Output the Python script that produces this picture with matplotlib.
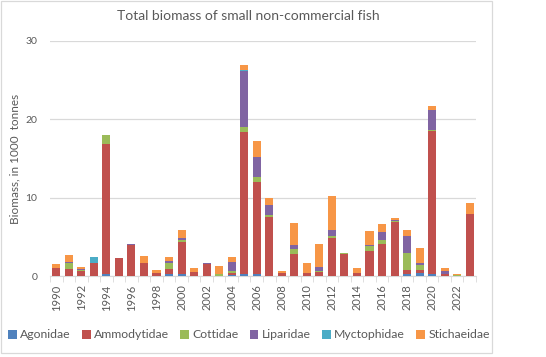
import numpy as np
import matplotlib
matplotlib.use("Agg")
import matplotlib.pyplot as plt
from matplotlib.patches import Rectangle

years = list(range(1990, 2024))

# biomass, 1000 tonnes
agonidae = [0, 0, 0, 0, 0.25, 0, 0, 0, 0, 0.2,
            0.2, 0, 0, 0, 0.1, 0.2, 0.2, 0, 0, 0,
            0, 0, 0, 0, 0, 0, 0, 0, 0.3, 0.35,
            0.3, 0, 0, 0]
ammodytidae = [1.05, 0.9, 0.6, 1.65, 16.65, 2.3, 3.95, 1.7, 0.4, 0.7,
               4.15, 0.5, 1.55, 0.05, 0.3, 18.2, 11.8, 7.5, 0.4, 2.8,
               0.4, 0.55, 4.9, 2.85, 0.4, 3.2, 4.08, 6.9, 0.45, 0.4,
               18.2, 0.3, 0, 7.9]
cottidae = [0, 0.8, 0.2, 0, 1.1, 0, 0, 0, 0, 0.7,
            0.25, 0, 0, 0.2, 0.25, 0.65, 0.65, 0.3, 0, 0.7,
            0, 0.12, 0.25, 0.12, 0, 0.6, 0.55, 0.15, 2.2, 0.6,
            0.2, 0, 0.12, 0]
liparidae = [0, 0.15, 0.15, 0, 0, 0, 0.12, 0, 0, 0.3,
             0.2, 0, 0.1, 0, 1.15, 7.15, 2.55, 1.25, 0, 0.4,
             0, 0.45, 0.7, 0, 0, 0.1, 0.95, 0.1, 2.1, 0.25,
             2.5, 0.35, 0, 0]
myctophidae = [0, 0, 0, 0.75, 0, 0, 0, 0, 0, 0,
               0.1, 0, 0, 0, 0, 0.1, 0, 0, 0, 0,
               0, 0, 0, 0, 0, 0, 0, 0, 0, 0,
               0, 0, 0, 0]
stichaeidae = [0.5, 0.8, 0.2, 0, 0, 0, 0, 0.9, 0.4, 0.5,
               1.0, 0.5, 0, 1.0, 0.6, 0.7, 2.05, 0.95, 0.3, 2.9,
               1.3, 2.95, 4.4, 0, 0.6, 1.8, 1.05, 0.25, 0.8, 2.0,
               0.5, 0.35, 0.12, 1.4]

series = [
    ("Agonidae", agonidae, "#4F81BD"),
    ("Ammodytidae", ammodytidae, "#C0504D"),
    ("Cottidae", cottidae, "#9BBB59"),
    ("Liparidae", liparidae, "#8064A2"),
    ("Myctophidae", myctophidae, "#4BACC6"),
    ("Stichaeidae", stichaeidae, "#F79646"),
]

plt.rcParams["font.family"] = ["Lato", "DejaVu Sans"]
text_col = "#595959"
line_col = "#D9D9D9"

W, H = 546, 357
fig = plt.figure(figsize=(W / 100, H / 100), dpi=100)
ax = fig.add_axes([50 / W, 1 - 276 / H, 426 / W, 235 / H])

x = np.arange(len(years))
bottom = np.zeros(len(years))
for name, vals, col in series:
    vals = np.array(vals)
    ax.bar(x, vals, width=0.64, bottom=bottom, color=col, label=name, zorder=3)
    bottom += vals

ax.set_xlim(-0.5, len(years) - 0.5)
ax.set_ylim(0, 30)
ax.set_yticks([0, 10, 20, 30])
ax.yaxis.grid(True, color=line_col, lw=0.9, zorder=0)
for s in ["top", "right", "left"]:
    ax.spines[s].set_visible(False)
ax.spines["bottom"].set_color(line_col)
ax.tick_params(axis="y", length=0, labelsize=7.5, labelcolor=text_col, pad=9)

ax.set_xticks(x[::2])
ax.set_xticklabels([str(y) for y in years[::2]], rotation=90)
ax.set_xticks(np.arange(-0.5, len(years), 1), minor=True)
ax.tick_params(axis="x", which="major", length=0, labelsize=8, labelcolor=text_col, pad=6)
ax.tick_params(axis="x", which="minor", length=4, color=line_col)

ax.set_ylabel("Biomass, in 1000  tonnes", fontsize=8.5, color=text_col, labelpad=4)
fig.text(248 / W, 1 - 16 / H, "Total biomass of small non-commercial fish",
         ha="center", va="center", fontsize=10, color=text_col)

fig.legend(loc="center", bbox_to_anchor=(249 / W, 1 - 335 / H), ncol=6,
           frameon=False, fontsize=8.8, handlelength=0.7, handleheight=0.7,
           handletextpad=0.3, columnspacing=0.9, labelcolor=text_col)

fig.patches.append(Rectangle((1 / W, 4 / H), 491 / W, 352 / H, transform=fig.transFigure,
                             fill=False, edgecolor=line_col, lw=0.9))

fig.savefig("out.png", dpi=100)
